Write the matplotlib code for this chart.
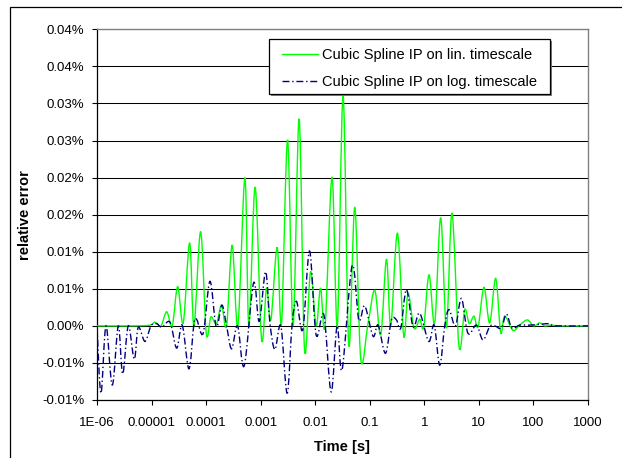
import matplotlib
matplotlib.use("Agg")
import matplotlib.pyplot as plt
import numpy as np
from matplotlib.patches import Rectangle, PathPatch
from matplotlib.path import Path
from matplotlib.lines import Line2D

plt.rcParams['font.family'] = ['Liberation Sans', 'DejaVu Sans']
plt.rcParams['lines.scale_dashes'] = False

# ---------------- data ----------------
series_names = ["Cubic Spline IP on lin. timescale",
                "Cubic Spline IP on log. timescale"]

# log10(time [s]) and relative error [%] for the linear-timescale interpolation
lin_log_time = [-6.000, -5.364, -5.029, -4.938, -4.828, -4.723, -4.621, -4.522,
                -4.419, -4.302, -4.223, -4.101, -3.998, -3.912, -3.811, -3.716,
                -3.625, -3.522, -3.418, -3.289, -3.216, -3.101, -2.984, -2.892,
                -2.813, -2.698, -2.617, -2.507, -2.405, -2.295, -2.196, -2.086,
                -1.984, -1.903, -1.819, -1.692, -1.595, -1.489, -1.385, -1.275,
                -1.165, -1.031, -0.908, -0.799, -0.694, -0.615, -0.493, -0.377,
                -0.299, -0.189, -0.084, -0.011, 0.086, 0.190, 0.300, 0.405,
                0.507, 0.636, 0.740, 0.822, 0.910, 0.987, 1.093, 1.198,
                1.308, 1.399, 1.473, 1.625, 1.747, 1.888, 2.004, 2.114,
                2.205, 2.333, 2.480, 3.000]
lin_error_pct = [0.0000, 0.0000, 0.0001, 0.0005, 0.0000, 0.0019, 0.0000, 0.0053,
                 0.0004, 0.0112, 0.0000, 0.0127, -0.0010, 0.0012, 0.0003, 0.0028,
                 0.0000, 0.0109, 0.0000, 0.0200, 0.0000, 0.0187, -0.0018, 0.0051,
                 0.0008, 0.0106, 0.0004, 0.0251, 0.0000, 0.0279, -0.0032, 0.0073,
                 0.0000, 0.0051, 0.0000, 0.0201, 0.0000, 0.0310, -0.0026, 0.0160,
                 -0.0045, 0.0004, 0.0048, -0.0012, 0.0090, 0.0000, 0.0125, -0.0014,
                 0.0044, -0.0003, 0.0009, -0.0002, 0.0069, 0.0004, 0.0146, -0.0003,
                 0.0152, -0.0028, 0.0022, 0.0003, 0.0013, -0.0001, 0.0052, 0.0004,
                 0.0064, -0.0009, 0.0013, -0.0006, 0.0001, 0.0008, 0.0000, 0.0004,
                 0.0000, 0.0001, 0.0000, 0.0000]

# log10(time [s]) and relative error [%] for the log-timescale interpolation
log_log_time = [-6.000, -5.927, -5.835, -5.720, -5.610, -5.529, -5.427, -5.317,
                -5.244, -5.121, -5.011, -4.907, -4.810, -4.663, -4.540, -4.438,
                -4.315, -4.223, -4.169, -4.053, -3.930, -3.815, -3.711, -3.625,
                -3.533, -3.423, -3.302, -3.130, -3.027, -2.910, -2.832, -2.740,
                -2.630, -2.515, -2.423, -2.343, -2.227, -2.104, -1.984, -1.842,
                -1.709, -1.599, -1.507, -1.324, -1.201, -1.092, -0.940, -0.848,
                -0.712, -0.603, -0.511, -0.432, -0.328, -0.207, -0.084, 0.081,
                0.181, 0.282, 0.374, 0.452, 0.570, 0.680, 0.800, 0.954,
                1.075, 1.198, 1.289, 1.412, 1.504, 1.606, 1.747, 1.930,
                2.114, 2.297, 2.407, 3.000]
log_error_pct = [0.0000, -0.0091, 0.0000, -0.0080, 0.0000, -0.0065, 0.0000, -0.0045,
                 -0.0002, -0.0021, 0.0000, 0.0003, -0.0002, 0.0005, -0.0030, 0.0001,
                 -0.0058, 0.0003, 0.0008, -0.0010, 0.0060, -0.0001, 0.0028, 0.0000,
                 -0.0031, 0.0000, -0.0054, 0.0058, 0.0006, 0.0073, 0.0005, -0.0032,
                 0.0000, -0.0091, 0.0003, 0.0033, -0.0005, 0.0101, -0.0012, 0.0015,
                 -0.0089, 0.0000, -0.0059, 0.0081, 0.0008, 0.0027, -0.0014, 0.0001,
                 -0.0037, 0.0008, 0.0008, -0.0003, 0.0049, -0.0001, 0.0017, -0.0021,
                 0.0001, -0.0053, 0.0000, 0.0022, 0.0000, 0.0037, -0.0010, 0.0001,
                 -0.0019, -0.0001, 0.0000, -0.0003, 0.0016, -0.0003, 0.0001, 0.0001,
                 0.0002, 0.0003, 0.0000, 0.0000]

x_tick_values = [1e-6, 1e-5, 1e-4, 1e-3, 1e-2, 1e-1, 1, 10, 100, 1000]
x_tick_labels = ["1E-06", "0.00001", "0.0001", "0.001", "0.01", "0.1",
                 "1", "10", "100", "1000"]
y_tick_values = [-0.010, -0.005, 0.000, 0.005, 0.010, 0.015, 0.020,
                 0.025, 0.030, 0.035, 0.040]
y_tick_labels = ["-0.01%", "-0.01%", "0.00%", "0.01%", "0.01%", "0.02%",
                 "0.02%", "0.03%", "0.03%", "0.04%", "0.04%"]

LIN_COLOR = "#00FF00"
LOG_COLOR = "#000080"
LOG_DASH = (0, (5, 2, 1, 2))


def smoothed_line_path(log_t, values):
    """Excel-style 'smoothed line': cubic Bezier segments through the points
    (control points computed in log-time space, returned in data space)."""
    P = np.column_stack([log_t, values]).astype(float)
    n = len(P)
    verts = [P[0]]
    codes = [Path.MOVETO]
    for i in range(n - 1):
        p_prev = P[i - 1] if i > 0 else P[i]
        p_next2 = P[i + 2] if i + 2 < n else P[i + 1]
        c1 = P[i] + (P[i + 1] - p_prev) / 6.0
        c2 = P[i + 1] - (p_next2 - P[i]) / 6.0
        verts += [c1, c2, P[i + 1]]
        codes += [Path.CURVE4] * 3
    V = np.array(verts)
    V[:, 0] = 10 ** V[:, 0]
    return Path(V, codes)


# ---------------- figure ----------------
W, H = 622, 458
fig = plt.figure(figsize=(W / 100, H / 100), dpi=100)
fig.patch.set_facecolor("white")

L, R, T, B = 97, 588, 29.3, 400
ax = fig.add_axes([L / W, 1 - B / H, (R - L) / W, (B - T) / H])

ax.set_xscale("log")
ax.set_xlim(1e-6, 1000)
ax.set_ylim(-0.010, 0.040)

ax.add_patch(PathPatch(smoothed_line_path(lin_log_time, lin_error_pct),
                       facecolor="none", edgecolor=LIN_COLOR, lw=1.0, zorder=3))
ax.add_patch(PathPatch(smoothed_line_path(log_log_time, log_error_pct),
                       facecolor="none", edgecolor=LOG_COLOR, lw=1.0,
                       linestyle=LOG_DASH, zorder=4))

ax.set_xticks(x_tick_values)
ax.set_xticklabels(x_tick_labels)
ax.xaxis.set_minor_locator(matplotlib.ticker.NullLocator())
ax.set_yticks(y_tick_values)
ax.set_yticklabels(y_tick_labels)

ax.tick_params(axis="both", which="major", direction="out", length=3.6,
               width=0.8, color="black", labelsize=9.5, labelcolor="black")
ax.tick_params(axis="y", pad=5.5)
ax.tick_params(axis="x", pad=8.5)

ax.grid(axis="y", color="black", lw=0.75, zorder=1)
ax.set_axisbelow(True)
for s in ["left", "bottom"]:
    ax.spines[s].set_color("black")
    ax.spines[s].set_linewidth(0.9)
for s in ["top", "right"]:
    ax.spines[s].set_color("#808080")
    ax.spines[s].set_linewidth(1.0)

fig.text(342.5 / W, 1 - 447 / H, "Time [s]", ha="center", va="center",
         fontsize=10.5, fontweight="bold")
fig.text(25 / W, 1 - 214.7 / H, "relative error", ha="center", va="center",
         rotation=90, fontsize=10.5, fontweight="bold")

# legend frame with shadow (pixel box 269..550 x 39..94)
lx0, lx1, ly0, ly1 = 269, 550, 39, 94
shadow = Rectangle((lx0 / W + 2 / W, 1 - ly1 / H - 2 / H), (lx1 - lx0) / W, (ly1 - ly0) / H,
                   transform=fig.transFigure, facecolor="#808080", edgecolor="none", zorder=9)
frame = Rectangle((lx0 / W, 1 - ly1 / H), (lx1 - lx0) / W, (ly1 - ly0) / H,
                  transform=fig.transFigure, facecolor="white", edgecolor="black",
                  lw=0.9, zorder=10)
fig.add_artist(shadow)
fig.add_artist(frame)

handles = [Line2D([], [], color=LIN_COLOR, lw=1.0),
           Line2D([], [], color=LOG_COLOR, lw=1.0, linestyle=LOG_DASH)]
leg = fig.legend(handles, series_names, loc="upper left",
                 bbox_to_anchor=(282 / W, 1 - 48.0 / H),
                 frameon=False, fontsize=10.5, handlelength=2.45,
                 handletextpad=0.3, labelspacing=0.9, borderpad=0,
                 borderaxespad=0)
leg.set_zorder(11)

# outer chart border (cropped at right / bottom)
border = Rectangle((10 / W, -0.1), 1.2, 1 - 7 / H + 0.1, transform=fig.transFigure,
                   fill=False, edgecolor="black", lw=0.9, zorder=20)
fig.add_artist(border)

fig.savefig("out.png", dpi=100, facecolor="white")
